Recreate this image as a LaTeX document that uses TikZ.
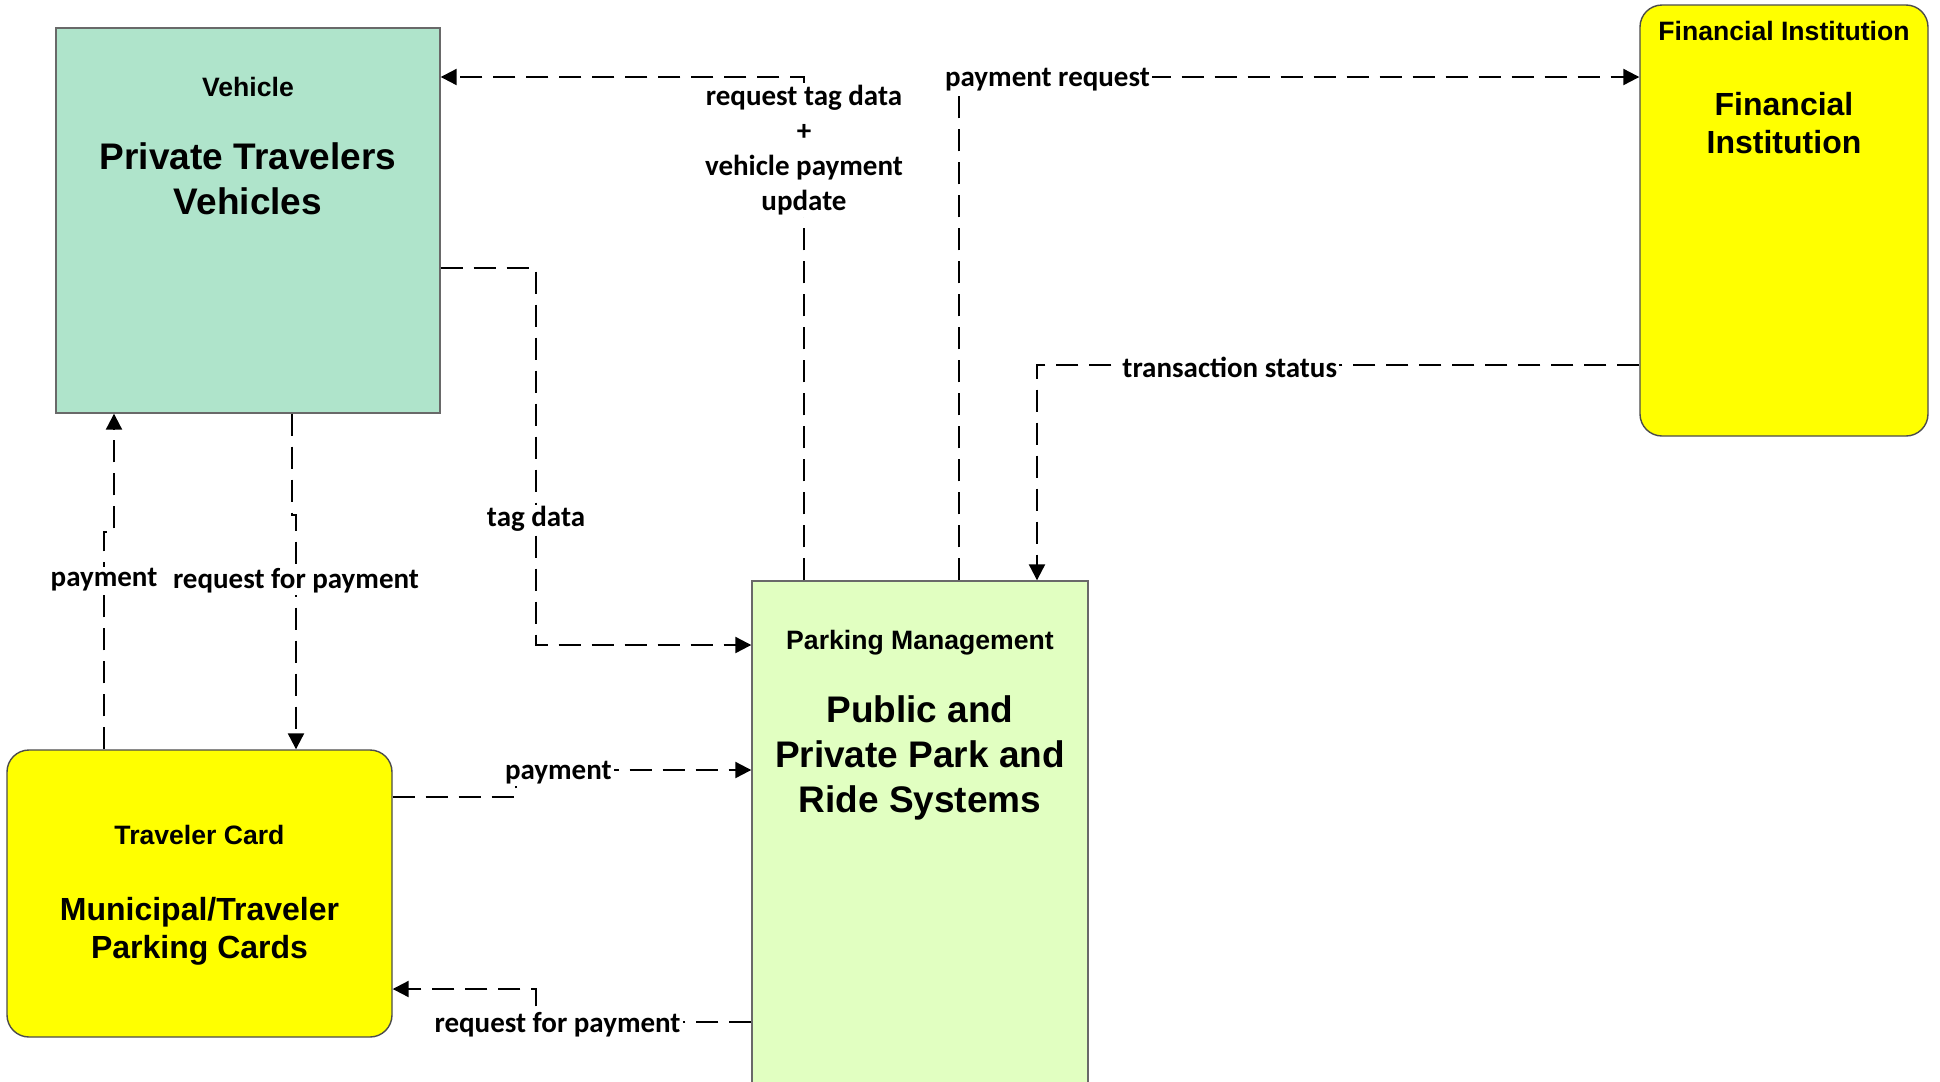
\documentclass[tikz,border=0pt]{standalone}
\usepackage{fontspec}
\setmainfont{Liberation Sans}
\newfontfamily\flowfont{Carlito}
\usetikzlibrary{arrows.meta}
\definecolor{vehgreen}{RGB}{175,228,203}
\definecolor{parkgreen}{RGB}{225,255,193}
\definecolor{termyellow}{RGB}{255,255,0}
\definecolor{edgegray}{RGB}{105,105,105}
\tikzset{
  box/.style={
    rectangle,
    draw=edgegray,
    line width=0.7pt,
    inner sep=0pt
  },
  roundbox/.style={
    box,
    draw=black!70,
    rounded corners=11pt
  },
  kind/.style={
    font=\bfseries\fontsize{13.3}{16}\selectfont,
    align=center
  },
  bigname/.style={
    font=\bfseries\fontsize{18.5}{22.3}\selectfont,
    align=center
  },
  midname/.style={
    font=\bfseries\fontsize{16}{18.8}\selectfont,
    align=center
  },
  lbl/.style={
    font=\flowfont\bfseries\fontsize{14.5}{17.5}\selectfont,
    align=center,
    fill=white,
    inner sep=1pt,
    yshift=-1.2pt
  },
  flow/.style={
    -{Triangle[length=8pt, width=8pt]},
    line width=1.1pt,
    dash pattern=on 11pt off 5.5pt
  }
}

\begin{document}
\begin{tikzpicture}[x=0.5pt, y=-0.5pt]
    \useasboundingbox[fill=white] (0,0) rectangle (1940,1082);

    % terminators
    \node[box, fill=vehgreen, minimum width=192pt, minimum height=192.5pt] (veh) at (248,220.5) {};
    \node[roundbox, fill=termyellow, minimum width=144pt, minimum height=215.5pt] (fin) at (1784,220.5) {};
    \node[box, fill=parkgreen, minimum width=168pt, minimum height=270pt] (park) at (920,851) {};
    \node[roundbox, fill=termyellow, minimum width=192.5pt, minimum height=143.5pt] (trav) at (199.5,893.5) {};

    \node[kind] (vehkind) at (248,87) {Vehicle};
    \node[bigname] (vehname) at (248,179) {Private Travelers\\Vehicles};
    \node[kind] (finkind) at (1784,31) {Financial Institution};
    \node[midname] (finname) at (1784,123) {Financial\\Institution};
    \node[kind] (parkkind) at (920,643) {Parking Management};
    \node[bigname] (parkname) at (920,758) {Public and\\Private Park and\\Ride Systems};
    \node[kind] (travkind) at (199.5,835) {Traveler Card};
    \node[midname] (travname) at (199.5,931) {Municipal/Traveler\\Parking Cards};

    % bends of the flows
    \coordinate (reqbend) at (804,77);
    \coordinate (paybend) at (959,77);
    \coordinate (tagbend1) at (536,268);
    \coordinate (tagbend2) at (536,645);
    \coordinate (statbend) at (1037,365);
    \coordinate (rfpbend1) at (292,515);
    \coordinate (rfpbend2) at (296,515);
    \coordinate (cardbend1) at (104,532);
    \coordinate (cardbend2) at (114,532);
    \coordinate (tppbend1) at (516,797);
    \coordinate (tppbend2) at (516,770);
    \coordinate (ptrbend1) at (536,1022);
    \coordinate (ptrbend2) at (536,989);

    \draw[flow] (park.north -| reqbend) -- node[lbl, pos=0.86] {request tag data\\+\\vehicle payment\\update} (reqbend) -- (veh.east |- reqbend);
    \draw[flow] (park.north -| paybend) -- (paybend) -- node[lbl, pos=0.13] {payment request} (fin.west |- paybend);
    \draw[flow] (veh.east |- tagbend1) -- (tagbend1) -- node[lbl, pos=0.66] {tag data} (tagbend2) -- (park.west |- tagbend2);
    \draw[flow] (fin.west |- statbend) -- node[lbl, pos=0.68] {transaction status} (statbend) -- (park.north -| statbend);
    \draw[flow] (veh.south -| rfpbend1) -- (rfpbend1) -- (rfpbend2) -- node[lbl, pos=0.27] {request for payment} (trav.north -| rfpbend2);
    \draw[flow] (trav.north -| cardbend1) -- node[lbl, pos=0.79] {payment} (cardbend1) -- (cardbend2) -- (veh.south -| cardbend2);
    \draw[flow] (trav.east |- tppbend1) -- (tppbend1) -- (tppbend2) -- node[lbl, pos=0.18] {payment} (park.west |- tppbend2);
    \draw[flow] (park.west |- ptrbend1) -- node[lbl, pos=0.9] {request for payment} (ptrbend1) -- (ptrbend2) -- (trav.east |- ptrbend2);
\end{tikzpicture}
\end{document}
